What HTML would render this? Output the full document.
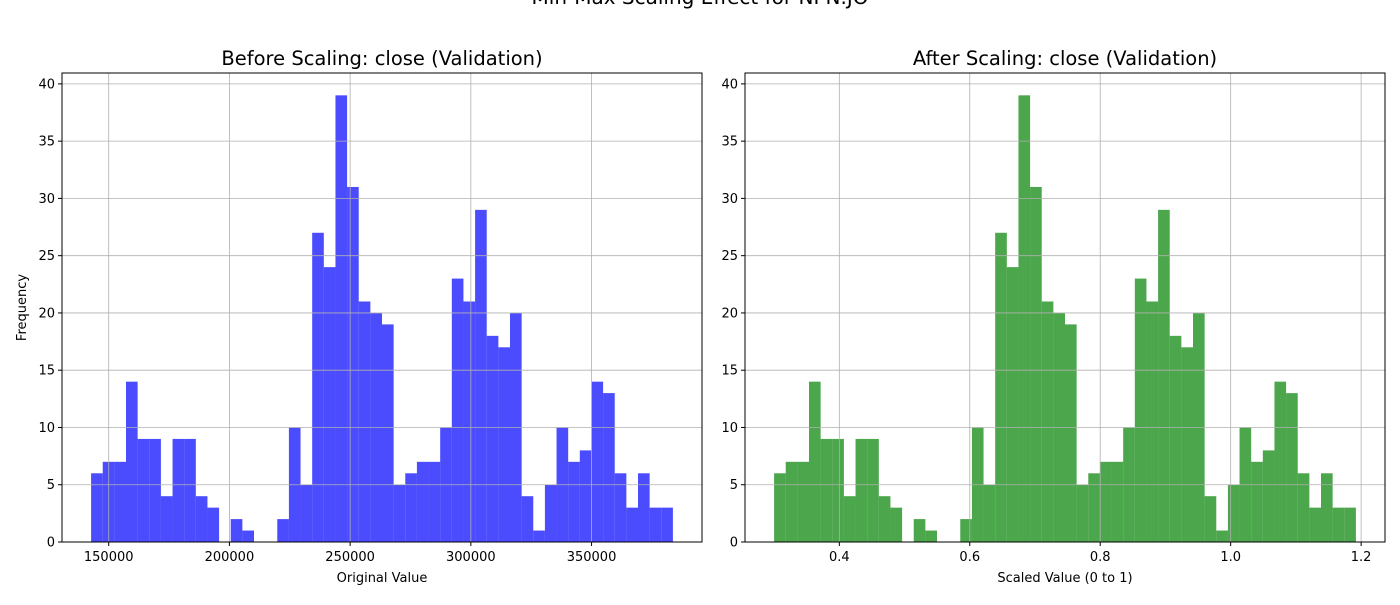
<!DOCTYPE html>
<html><head><meta charset="utf-8"><style>
body{margin:0;background:#fff;}
svg{font-family:"DejaVu Sans","Liberation Sans",sans-serif;}
</style></head><body>
<svg id="chart" width="1400" height="600" xmlns="http://www.w3.org/2000/svg">
<text x="700" y="4" text-anchor="middle" font-size="20">Min-Max Scaling Effect for NPN.JO</text>
</svg>
<script>
const counts=[6,7,7,14,9,9,4,9,9,4,3,0,2,1,0,0,2,10,5,27,24,39,31,21,20,19,5,6,7,7,10,23,21,29,18,17,20,4,1,5,10,7,8,14,13,6,3,6,3,3];
const leftMin=142700, leftMax=383700;
const rightMin=0.3, rightMax=1.192;
const leftTicks=[150000,200000,250000,300000,350000];
const rightTicks=[0.4,0.6,0.8,1.0,1.2];
const rightTickLabels=["0.4","0.6","0.8","1.0","1.2"];
const yTicks=[0,5,10,15,20,25,30,35,40];
const NS="http://www.w3.org/2000/svg";
const svg=document.getElementById('chart');
function el(t,a,p){const e=document.createElementNS(NS,t);for(const k in a)e.setAttribute(k,a[k]);(p||svg).appendChild(e);return e;}
function panel(id,x0,x1,dmin,dmax,xt,xl,color,title,xlabel,ylabel){
  const top=73,bot=542,span=dmax-dmin,lo=dmin-span*0.05,hi=dmax+span*0.05;
  const ymax=Math.max(...counts)*1.05;
  const X=v=>x0+(v-lo)/(hi-lo)*(x1-x0);
  const Y=v=>bot-v/ymax*(bot-top);
  const g=el('g',{});
  
  
  const w=(dmax-dmin)/counts.length;
  counts.forEach((c,i)=>{
    if(!c)return;
    const a=X(dmin+i*w),b=X(dmin+(i+1)*w);
    const r=el('rect',{x:a,y:Y(c),width:b-a,height:bot-Y(c),fill:color,'fill-opacity':0.7},g);
    
    
  });
  xt.forEach((t,i)=>{
    const l=el('line',{x1:X(t),x2:X(t),y1:top,y2:bot,stroke:'#b0b0b0','stroke-width':0.8},g);
    
    
    el('line',{x1:X(t),x2:X(t),y1:bot,y2:bot+4,stroke:'#000'},g);
    const tx=el('text',{x:X(t),y:bot+19,'text-anchor':'middle','font-size':13},g);
    tx.textContent=xl[i];
    
    
  });
  yTicks.forEach(t=>{
    const l=el('line',{x1:x0,x2:x1,y1:Y(t),y2:Y(t),stroke:'#b0b0b0','stroke-width':0.8},g);
    
    
    el('line',{x1:x0-4,x2:x0,y1:Y(t),y2:Y(t),stroke:'#000'},g);
    const tx=el('text',{x:x0-7,y:Y(t)+4.5,'text-anchor':'end','font-size':13},g);
    tx.textContent=t;
    
    
  });
  const f=el('rect',{x:x0,y:top,width:x1-x0,height:bot-top,fill:'none',stroke:'#000','stroke-width':1},g);
  
  
  const tt=el('text',{x:(x0+x1)/2,y:65,'text-anchor':'middle','font-size':19.5},g);
  tt.textContent=title;
  
  
  const xlb=el('text',{x:(x0+x1)/2,y:582,'text-anchor':'middle','font-size':13},g);
  xlb.textContent=xlabel;
  
  
  if(ylabel){
    const yl=el('text',{x:0,y:0,'text-anchor':'middle','font-size':13,transform:`translate(26,${(top+bot)/2}) rotate(-90)`},g);
    yl.textContent=ylabel;
    
    
  }
}
panel('before',62,702,leftMin,leftMax,leftTicks,leftTicks.map(String),'#0000ff','Before Scaling: close (Validation)','Original Value','Frequency');
panel('after',745,1385,rightMin,rightMax,rightTicks,rightTickLabels,'#008000','After Scaling: close (Validation)','Scaled Value (0 to 1)',null);
</script>
</body></html>
